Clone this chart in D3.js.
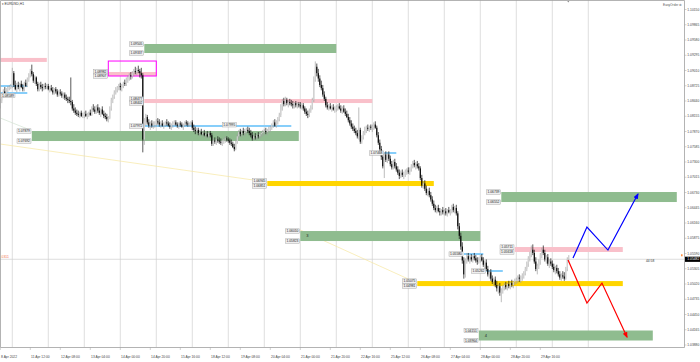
<!DOCTYPE html>
<html>
<head>
<meta charset="utf-8">
<script src="https://cdn.jsdelivr.net/npm/d3@7"></script>
<style>
  body { margin: 0; background: #fff; }
  svg { display: block; }
  text { font-family: "Liberation Sans", Arial, sans-serif; }
</style>
</head>
<body>
<svg id="chart" width="700" height="362"></svg>
<script>
// EURUSD H1, 8 Apr 16:00 -> 2 May 11:00 (2022). Prices in pips (x 1e-4), [open, high, low, close]
const candles = [
  // 8 Apr
  [10835,10848,10830,10845],[10845,10858,10840,10855],[10855,10866,10850,10862],[10862,10870,10855,10858],
  [10858,10868,10854,10866],[10866,10872,10860,10868],[10868,10874,10864,10870],[10870,10876,10866,10872],
  // 11 Apr
  [10872,10906,10868,10896],[10896,10900,10870,10874],[10874,10882,10864,10866],[10866,10878,10860,10874],
  [10874,10880,10866,10870],[10870,10878,10862,10876],[10876,10882,10868,10870],[10870,10876,10862,10866],
  [10866,10880,10862,10878],[10878,10884,10870,10872],[10872,10888,10870,10884],[10884,10896,10880,10892],
  [10892,10904,10888,10900],[10900,10912,10890,10894],[10894,10898,10878,10882],[10882,10892,10876,10888],
  [10888,10890,10872,10876],[10876,10880,10862,10866],[10866,10878,10862,10874],[10874,10880,10866,10870],
  [10870,10876,10862,10868],[10868,10876,10864,10872],[10872,10878,10866,10870],[10870,10876,10866,10872],
  // 12 Apr
  [10872,10876,10864,10866],[10866,10872,10860,10868],[10868,10874,10862,10864],[10864,10870,10856,10860],
  [10860,10868,10856,10866],[10866,10870,10858,10862],[10862,10866,10852,10856],[10856,10864,10852,10860],
  [10860,10866,10854,10858],[10858,10862,10850,10854],[10854,10860,10848,10856],[10856,10860,10846,10850],
  [10850,10856,10844,10848],[10848,10852,10840,10846],[10846,10852,10840,10844],[10844,10888,10836,10842],
  [10842,10846,10826,10830],[10830,10838,10822,10826],[10826,10832,10818,10822],[10822,10828,10816,10820],
  [10820,10826,10814,10818],[10818,10824,10812,10822],[10822,10826,10814,10816],[10816,10822,10812,10818],
  // 13 Apr
  [10818,10824,10812,10820],[10820,10826,10814,10816],[10816,10822,10810,10818],[10818,10824,10814,10822],
  [10822,10828,10816,10818],[10818,10834,10816,10830],[10830,10838,10824,10828],[10828,10834,10820,10824],
  [10824,10836,10820,10832],[10832,10838,10822,10826],[10826,10832,10818,10822],[10822,10830,10814,10828],
  [10828,10834,10818,10820],[10820,10826,10812,10816],[10816,10822,10810,10814],[10814,10820,10806,10810],
  [10810,10816,10804,10812],[10812,10834,10810,10830],[10830,10850,10826,10846],[10846,10856,10840,10852],
  [10852,10864,10848,10860],[10860,10870,10856,10866],[10866,10872,10860,10868],[10868,10876,10864,10872],
  // 14 Apr
  [10872,10878,10864,10870],[10870,10876,10862,10874],[10874,10880,10868,10878],[10878,10884,10872,10876],
  [10876,10888,10872,10884],[10884,10892,10878,10888],[10888,10896,10882,10892],[10892,10898,10884,10890],
  [10890,10900,10886,10896],[10896,10904,10890,10900],[10900,10908,10894,10898],[10898,10906,10892,10902],
  [10902,10910,10896,10900],[10900,10904,10888,10896],[10896,10906,10886,10892],[10892,10896,10748,10772],
  [10772,10812,10762,10806],[10806,10820,10798,10814],[10814,10818,10800,10804],[10804,10810,10794,10798],
  [10798,10806,10790,10802],[10802,10808,10794,10798],[10798,10806,10792,10800],[10800,10806,10794,10802],
  // 15 Apr
  [10802,10810,10796,10806],[10806,10812,10800,10804],[10804,10810,10796,10800],[10800,10806,10794,10802],
  [10802,10808,10796,10798],[10798,10804,10792,10800],[10800,10806,10796,10804],[10804,10810,10798,10802],
  [10802,10806,10796,10798],[10798,10804,10792,10796],[10796,10802,10790,10800],[10800,10806,10794,10802],
  [10802,10808,10798,10804],[10804,10808,10798,10800],[10800,10804,10794,10798],[10798,10804,10792,10802],
  [10802,10806,10796,10800],[10800,10804,10794,10796],[10796,10802,10790,10800],[10800,10806,10796,10804],
  [10804,10808,10798,10802],[10802,10806,10796,10800],[10800,10804,10796,10802],[10802,10806,10798,10804],
  // 18 Apr
  [10804,10808,10790,10794],[10794,10800,10786,10790],[10790,10796,10782,10788],[10788,10794,10782,10790],
  [10790,10794,10780,10784],[10784,10790,10778,10786],[10786,10792,10780,10782],[10782,10788,10776,10784],
  [10784,10790,10778,10780],[10780,10786,10774,10782],[10782,10788,10776,10778],[10778,10786,10774,10784],
  [10784,10788,10776,10780],[10780,10784,10760,10764],[10764,10774,10760,10770],[10770,10776,10764,10768],
  [10768,10774,10762,10772],[10772,10778,10766,10770],[10770,10776,10764,10768],[10768,10774,10762,10766],
  [10766,10772,10760,10770],[10770,10776,10764,10772],[10772,10778,10766,10774],[10774,10778,10768,10772],
  // 19 Apr
  [10772,10776,10766,10770],[10770,10774,10762,10766],[10766,10772,10760,10764],[10764,10768,10756,10758],
  [10758,10764,10750,10754],[10754,10772,10752,10768],[10768,10782,10764,10778],[10778,10790,10774,10786],
  [10786,10792,10778,10782],[10782,10790,10776,10788],[10788,10794,10780,10784],[10784,10792,10778,10786],
  [10786,10794,10782,10790],[10790,10796,10784,10788],[10788,10794,10780,10784],[10784,10790,10776,10780],
  [10780,10786,10770,10774],[10774,10782,10770,10778],[10778,10784,10772,10776],[10776,10782,10770,10780],
  [10780,10786,10774,10778],[10778,10784,10772,10782],[10782,10788,10776,10784],[10784,10790,10778,10786],
  // 20 Apr
  [10786,10792,10780,10788],[10788,10794,10782,10786],[10786,10792,10780,10790],[10790,10796,10784,10792],
  [10792,10798,10786,10794],[10794,10802,10790,10800],[10800,10808,10794,10804],[10804,10810,10796,10798],
  [10798,10808,10794,10806],[10806,10814,10800,10810],[10810,10822,10806,10818],[10818,10838,10814,10834],
  [10834,10848,10826,10844],[10844,10850,10834,10838],[10838,10852,10834,10846],[10846,10850,10836,10840],
  [10840,10846,10832,10842],[10842,10848,10836,10840],[10840,10846,10834,10838],[10838,10844,10830,10836],
  [10836,10842,10830,10840],[10840,10844,10832,10836],[10836,10842,10830,10838],[10838,10842,10832,10836],
  // 21 Apr
  [10836,10842,10830,10834],[10834,10840,10828,10836],[10836,10840,10826,10830],[10830,10834,10820,10824],
  [10824,10830,10816,10820],[10820,10826,10812,10818],[10818,10830,10814,10826],[10826,10836,10822,10832],
  [10832,10850,10828,10846],[10846,10890,10842,10884],[10884,10918,10880,10908],[10908,10914,10890,10896],
  [10896,10904,10880,10886],[10886,10892,10870,10874],[10874,10882,10864,10868],[10868,10874,10852,10856],
  [10856,10862,10844,10848],[10848,10852,10832,10836],[10836,10842,10828,10832],[10832,10838,10826,10834],
  [10834,10840,10828,10830],[10830,10836,10824,10832],[10832,10838,10826,10828],[10828,10834,10822,10830],
  // 22 Apr
  [10830,10836,10824,10832],[10832,10838,10826,10834],[10834,10840,10828,10830],[10830,10836,10822,10826],
  [10826,10834,10820,10830],[10830,10836,10822,10824],[10824,10830,10816,10820],[10820,10826,10812,10814],
  [10814,10820,10804,10808],[10808,10814,10798,10802],[10802,10808,10792,10796],[10796,10802,10788,10792],
  [10792,10798,10784,10788],[10788,10794,10780,10784],[10784,10790,10774,10778],[10778,10832,10772,10790],
  [10790,10794,10764,10768],[10768,10780,10764,10776],[10776,10788,10772,10784],[10784,10796,10780,10790],
  [10790,10798,10784,10794],[10794,10800,10788,10792],[10792,10798,10786,10796],[10796,10800,10790,10794],
  // 25 Apr
  [10794,10800,10786,10796],[10796,10804,10790,10800],[10800,10806,10792,10794],[10794,10798,10776,10780],
  [10780,10786,10762,10766],[10766,10772,10750,10754],[10754,10760,10734,10740],[10740,10746,10718,10722],
  [10722,10748,10700,10744],[10744,10750,10730,10734],[10734,10748,10728,10744],[10744,10750,10732,10736],
  [10736,10742,10722,10726],[10726,10732,10716,10720],[10720,10734,10716,10730],[10730,10736,10718,10722],
  [10722,10728,10712,10716],[10716,10722,10706,10710],[10710,10716,10698,10704],[10704,10714,10700,10710],
  [10710,10716,10702,10706],[10706,10712,10698,10708],[10708,10716,10702,10712],[10712,10718,10706,10714],
  // 26 Apr
  [10714,10720,10708,10712],[10712,10720,10706,10716],[10716,10726,10712,10722],[10722,10732,10718,10728],
  [10728,10734,10720,10724],[10724,10730,10716,10726],[10726,10732,10718,10722],[10722,10728,10714,10718],
  [10718,10722,10696,10700],[10700,10706,10682,10686],[10686,10694,10680,10690],[10690,10696,10676,10680],
  [10680,10686,10668,10672],[10672,10680,10666,10676],[10676,10682,10664,10668],[10668,10674,10656,10660],
  [10660,10666,10648,10652],[10652,10658,10640,10644],[10644,10650,10636,10640],[10640,10648,10634,10644],
  [10644,10650,10636,10638],[10638,10644,10630,10636],[10636,10642,10630,10640],[10640,10646,10632,10636],
  // 27 Apr
  [10636,10642,10630,10638],[10638,10644,10630,10634],[10634,10642,10628,10640],[10640,10646,10634,10636],
  [10636,10642,10630,10638],[10638,10650,10634,10646],[10646,10652,10636,10640],[10640,10648,10634,10644],
  [10644,10650,10630,10634],[10634,10638,10604,10610],[10610,10616,10586,10592],[10592,10598,10566,10572],
  [10572,10580,10540,10546],[10546,10552,10512,10520],[10520,10550,10514,10546],[10546,10560,10540,10554],
  [10554,10560,10544,10548],[10548,10556,10540,10552],[10552,10558,10544,10548],[10548,10556,10542,10554],
  [10554,10560,10546,10550],[10550,10556,10542,10546],[10546,10552,10538,10544],[10544,10552,10540,10548],
  // 28 Apr
  [10548,10556,10542,10552],[10552,10558,10544,10546],[10546,10552,10534,10538],[10538,10546,10530,10542],
  [10542,10548,10526,10530],[10530,10536,10516,10520],[10520,10528,10512,10524],[10524,10530,10508,10512],
  [10512,10518,10502,10506],[10506,10514,10498,10510],[10510,10516,10496,10500],[10500,10508,10488,10494],
  [10494,10502,10484,10498],[10498,10504,10480,10486],[10486,10494,10468,10490],[10490,10500,10484,10496],
  [10496,10504,10490,10500],[10500,10506,10492,10496],[10496,10504,10490,10502],[10502,10508,10494,10498],
  [10498,10506,10492,10504],[10504,10510,10496,10500],[10500,10508,10494,10506],[10506,10512,10500,10508],
  // 29 Apr
  [10508,10514,10502,10510],[10510,10518,10504,10514],[10514,10520,10506,10512],[10512,10518,10504,10516],
  [10516,10522,10508,10518],[10518,10526,10512,10522],[10522,10534,10518,10530],[10530,10544,10526,10540],
  [10540,10554,10534,10550],[10550,10562,10544,10558],[10558,10574,10552,10566],[10566,10576,10556,10560],
  [10560,10566,10540,10544],[10544,10552,10526,10530],[10530,10540,10520,10536],[10536,10548,10530,10544],
  [10544,10560,10538,10556],[10556,10570,10550,10566],[10566,10574,10556,10560],[10560,10566,10544,10548],
  [10548,10556,10540,10552],[10552,10558,10536,10540],[10540,10548,10532,10544],[10544,10550,10536,10540],
  // 2 May
  [10540,10546,10530,10534],[10534,10540,10524,10528],[10528,10536,10520,10532],[10532,10538,10522,10526],
  [10526,10532,10516,10520],[10520,10526,10510,10514],[10514,10522,10508,10518],[10518,10526,10512,10516],
  [10516,10524,10508,10512],[10512,10534,10510,10530],[10530,10552,10526,10548],[10548,10556,10542,10548],
];

// first bar of each trading day (period separators)
const dayStarts = [8, 32, 56, 80, 104, 128, 152, 176, 200, 224, 248, 272, 296, 320, 344, 368, 392];

// time axis labels, one every 20 bars
const timeLabels = [
  "8 Apr 2022", "11 Apr 12:00", "12 Apr 08:00", "13 Apr 04:00", "14 Apr 00:00", "14 Apr 20:00",
  "15 Apr 16:00", "18 Apr 12:00", "19 Apr 08:00", "20 Apr 04:00", "21 Apr 00:00", "21 Apr 20:00",
  "22 Apr 16:00", "25 Apr 12:00", "26 Apr 08:00", "27 Apr 04:00", "28 Apr 00:00", "28 Apr 20:00",
  "29 Apr 16:00",
];

const priceTicks = [
  1.10150, 1.09865, 1.09580, 1.09295, 1.09010, 1.08725, 1.08440, 1.08155, 1.07870, 1.07585,
  1.07300, 1.07015, 1.06730, 1.06445, 1.06160, 1.05875, 1.05590, 1.05305, 1.05020, 1.04735,
  1.04450, 1.04165, 1.03880,
];

// supply / demand zones: bar range and price band
const zones = [
  { kind: "pink",   from: 0,   to: 31,  top: 1.09245, bottom: 1.09170, tags: false },
  { kind: "green",  from: 96,  to: 224, top: 1.09505, bottom: 1.09337, tags: true },
  { kind: "pink",   from: 72,  to: 104, top: 1.08982, bottom: 1.08907, tags: true },
  { kind: "pink",   from: 96,  to: 248, top: 1.08477, bottom: 1.08402, tags: true },
  { kind: "green",  from: 21,  to: 199, top: 1.07879, bottom: 1.07692, tags: true },
  { kind: "yellow", from: 178, to: 289, top: 1.06945, bottom: 1.06851, tags: true },
  { kind: "green",  from: 200, to: 320, top: 1.06010, bottom: 1.05823, tags: true, name: "3" },
  { kind: "green",  from: 334, to: 451, top: 1.06739, bottom: 1.06552, tags: true },
  { kind: "pink",   from: 343, to: 415, top: 1.05711, bottom: 1.05618, tags: true },
  { kind: "yellow", from: 278, to: 415, top: 1.05075, bottom: 1.04981, tags: true },
  { kind: "green",  from: 319, to: 435, top: 1.04151, bottom: 1.03964, tags: true, name: "4" },
];

// blue price levels
const levels = [
  { from: 0,   to: 18,  price: 1.08720, tag: false },
  { from: 0,   to: 18,  price: 1.08589, tag: true },
  { from: 96,  to: 194, price: 1.07972, tag: true },
  { from: 256, to: 264, price: 1.07468, tag: true },
  { from: 309, to: 322, price: 1.05580, tag: true },
  { from: 324, to: 335, price: 1.05262, tag: true },
];
const extraTags = [{ bar: 148, price: 1.07995 }];

const highlightBox = { from: 72, to: 104, top: 1.09187, bottom: 1.08907 };

const trendLines = [
  { kind: "gray",   from: [0, 1.08122],   to: [20, 1.07897] },
  { kind: "yellow", from: [0, 1.07636],   to: [178, 1.06926] },
  { kind: "yellow", from: [200, 1.06029], to: [275, 1.05075] },
];

// projected scenarios (bar, price)
const upScenario = [[381.8, 1.05504], [391.1, 1.06084], [405.1, 1.05654], [425.1, 1.06701]];
const downScenario = [[378.5, 1.05467], [391.1, 1.04664], [401.1, 1.05037], [417.8, 1.04028]];

const bid = 1.05482;
const countdown = "44:58";
const symbolTitle = "\u25BE EURUSD,H1";

// ---------------------------------------------------------------------------
const colors = { green: "#8fbc8f", pink: "#f9c0ca", yellow: "#ffd500", blue: "#87cefa" };
const axisRight = 684.5, axisBottom = 347.5;
const fmt = (p) => p.toFixed(5);

const svg = d3.select("#chart");
svg.append("rect").attr("width", 700).attr("height", 362).attr("fill", "#fff");

const x = d3.scaleLinear().domain([0, candles.length - 1]).range([0.3, 568.8]);
const y = d3.scaleLinear()
  .domain([priceTicks[0], priceTicks[priceTicks.length - 1]])
  .range([9.5, 345]);
const yp = (pips) => y(pips / 1e4);

svg.append("defs").append("clipPath").attr("id", "plotClip")
  .append("rect").attr("x", 0).attr("y", 0).attr("width", axisRight).attr("height", axisBottom);

const defs = svg.select("defs");
[["arrowBlue", "#0000ff"], ["arrowRed", "#ff0000"]].forEach(([id, c]) => {
  defs.append("marker").attr("id", id)
    .attr("viewBox", "0 0 10 10").attr("refX", 8).attr("refY", 5)
    .attr("markerUnits", "userSpaceOnUse")
    .attr("markerWidth", 6).attr("markerHeight", 6).attr("orient", "auto")
    .append("path").attr("d", "M0,1 L10,5 L0,9 Z").attr("fill", c);
});

const plot = svg.append("g").attr("clip-path", "url(#plotClip)");

// period separators
plot.selectAll(".sep").data(dayStarts).enter().append("line")
  .attr("x1", (d) => x(d)).attr("x2", (d) => x(d))
  .attr("y1", 0).attr("y2", axisBottom)
  .style("stroke", "#d6d6d6").style("stroke-width", 0.8);

// bid line
plot.append("line").attr("x1", 0).attr("x2", axisRight)
  .attr("y1", y(bid)).attr("y2", y(bid))
  .style("stroke", "#cfcfcf").style("stroke-width", 0.7);

// trend lines
plot.selectAll(".trend").data(trendLines).enter().append("line")
  .attr("x1", (d) => x(d.from[0])).attr("y1", (d) => y(d.from[1]))
  .attr("x2", (d) => x(d.to[0])).attr("y2", (d) => y(d.to[1]))
  .style("stroke", (d) => (d.kind === "yellow" ? "#f7e7a0" : "#d3e3d3"))
  .style("stroke-width", 0.7);

// zones
plot.selectAll(".zone").data(zones).enter().append("rect")
  .attr("x", (d) => x(d.from)).attr("width", (d) => x(d.to) - x(d.from))
  .attr("y", (d) => y(d.top)).attr("height", (d) => y(d.bottom) - y(d.top))
  .attr("fill", (d) => colors[d.kind]);

plot.selectAll(".zoneName").data(zones.filter((d) => d.name)).enter().append("text")
  .attr("x", (d) => x(d.from + 4)).attr("y", (d) => (y(d.top) + y(d.bottom)) / 2 + 1.3)
  .style("font-size", "4px").style("fill", "#222").text((d) => d.name);

// blue levels
plot.selectAll(".level").data(levels).enter().append("line")
  .attr("x1", (d) => x(d.from)).attr("x2", (d) => x(d.to))
  .attr("y1", (d) => y(d.price)).attr("y2", (d) => y(d.price))
  .style("stroke", colors.blue).style("stroke-width", 2);

// highlight box
plot.append("rect")
  .attr("x", x(highlightBox.from)).attr("width", x(highlightBox.to) - x(highlightBox.from))
  .attr("y", y(highlightBox.top)).attr("height", y(highlightBox.bottom) - y(highlightBox.top))
  .attr("fill", "none").style("stroke", "#ff00ff").style("stroke-width", 1);

// candles: bull = hollow grey, bear = black
const bars = plot.selectAll(".bar").data(candles).enter().append("g");
bars.append("line")
  .attr("x1", (d, i) => x(i)).attr("x2", (d, i) => x(i))
  .attr("y1", (d) => yp(d[1])).attr("y2", (d) => yp(d[2]))
  .style("stroke", (d) => (d[3] >= d[0] ? "#a0a0a0" : "#111"))
  .style("stroke-width", 0.7);
bars.append("rect")
  .attr("x", (d, i) => x(i) - 0.55).attr("width", 1.1)
  .attr("y", (d) => yp(Math.max(d[0], d[3])))
  .attr("height", (d) => Math.max(0.5, Math.abs(yp(d[0]) - yp(d[3]))))
  .attr("fill", (d) => (d[3] >= d[0] ? "#d2d2d2" : "#000"));

// price tags
function tag(px, py, text, anchor) {
  const w = 14, h = 4.4;
  const left = anchor === "end" ? px - w : px;
  const g = svg.append("g");
  g.append("rect").attr("x", left).attr("y", py - h / 2).attr("width", w).attr("height", h)
    .attr("fill", "#efefef").style("stroke", "#9a9a9a").style("stroke-width", 0.4);
  g.append("text").attr("x", left + w / 2).attr("y", py + 1.15)
    .attr("text-anchor", "middle").style("font-size", "3.3px").style("fill", "#222").text(text);
}
zones.filter((d) => d.tags).forEach((d) => {
  tag(x(d.from) - 0.8, y(d.top), fmt(d.top), "end");
  tag(x(d.from) - 0.8, y(d.bottom), fmt(d.bottom), "end");
});
levels.filter((d) => d.tag).forEach((d) => {
  const px = x(d.from);
  if (px < 15) tag(1, y(d.price) + 2.5, fmt(d.price), "start");
  else tag(px - 0.8, y(d.price), fmt(d.price), "end");
});
extraTags.forEach((d) => tag(x(d.bar), y(d.price), fmt(d.price), "start"));

// scenario arrows
const path = d3.line().x((d) => x(d[0])).y((d) => y(d[1]));
svg.append("path").attr("d", path(upScenario)).attr("fill", "none")
  .style("stroke", "#0000ff").style("stroke-width", 1.2).attr("marker-end", "url(#arrowBlue)");
svg.append("path").attr("d", path(downScenario)).attr("fill", "none")
  .style("stroke", "#ff0000").style("stroke-width", 1.2).attr("marker-end", "url(#arrowRed)");

// frame
svg.append("path")
  .attr("d", `M0.5,${axisBottom} V0.5 H${axisRight} V${axisBottom} H0.5`)
  .attr("fill", "none").style("stroke", "#a0a0a0").style("stroke-width", 0.8);

// price axis
const pa = svg.append("g");
pa.selectAll("line").data(priceTicks).enter().append("line")
  .attr("x1", axisRight).attr("x2", axisRight + 2)
  .attr("y1", (d) => y(d)).attr("y2", (d) => y(d))
  .style("stroke", "#a0a0a0").style("stroke-width", 0.5);
pa.selectAll("text").data(priceTicks).enter().append("text")
  .attr("x", axisRight + 2.8).attr("y", (d) => y(d) + 1.2)
  .style("font-size", "3.3px").style("fill", "#444").text(fmt);

// bid box
svg.append("rect").attr("x", axisRight + 0.5).attr("y", y(bid) - 2.6)
  .attr("width", 15).attr("height", 5.2).attr("fill", "#000");
svg.append("text").attr("x", axisRight + 2.8).attr("y", y(bid) + 1.2)
  .style("font-size", "3.3px").style("fill", "#fff").text(fmt(bid));
svg.append("text").attr("x", 646).attr("y", y(bid) + 2.6)
  .style("font-size", "3.3px").style("fill", "#333").text(countdown);
svg.append("rect").attr("x", 681).attr("y", y(bid) - 5).attr("width", 1.6).attr("height", 2)
  .attr("fill", "#ff9040");

// time axis
const ta = svg.append("g");
ta.selectAll("line").data(timeLabels).enter().append("line")
  .attr("x1", (d, i) => x(i * 20)).attr("x2", (d, i) => x(i * 20))
  .attr("y1", axisBottom).attr("y2", axisBottom + 2.5)
  .style("stroke", "#a0a0a0").style("stroke-width", 0.5);
ta.selectAll("text").data(timeLabels).enter().append("text")
  .attr("x", (d, i) => x(i * 20) + 0.8).attr("y", 358.4)
  .style("font-size", "3.3px").style("fill", "#444").text((d) => d);

// captions
svg.append("text").attr("x", 1.5).attr("y", 5).style("font-size", "3.4px").style("fill", "#333")
  .text(symbolTitle);
svg.append("text").attr("x", 663).attr("y", 5.5).style("font-size", "3.2px").style("fill", "#555")
  .text("EasyOrder \u2699");
svg.append("text").attr("x", 1.5).attr("y", 257.5).style("font-size", "3.4px").style("fill", "#f07050")
  .text("0311");
svg.append("path").attr("d", `M${x(378)},1 l2,0 l-1,1.6 Z`).attr("fill", "#888");
</script>
</body>
</html>
